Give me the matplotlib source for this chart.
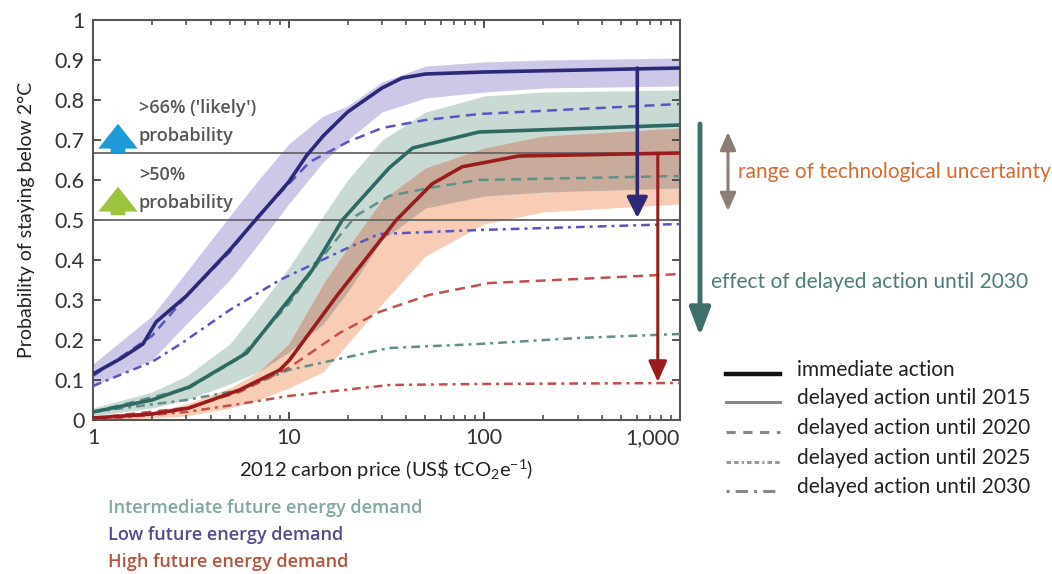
import numpy as np
import matplotlib
matplotlib.use("Agg")
import matplotlib.pyplot as plt
from matplotlib.lines import Line2D
from matplotlib.patches import FancyArrowPatch
from matplotlib.ticker import FixedLocator, NullFormatter, LogLocator

# ---------------- data ----------------
low_imm_x = [1, 1.4, 1.8, 2.1, 3, 5, 6.5, 10, 12.3, 15, 20, 30, 38, 50, 100, 1000]
low_imm_y = [0.115, 0.155, 0.19, 0.245, 0.31, 0.425, 0.49, 0.595, 0.66, 0.71, 0.77, 0.83, 0.855, 0.865, 0.87, 0.88]
low_2020_x = [1, 2, 3, 5, 7, 10, 12.8, 20, 30, 50, 94, 1000]
low_2020_y = [0.11, 0.21, 0.31, 0.42, 0.51, 0.59, 0.645, 0.695, 0.73, 0.75, 0.765, 0.79]
low_2030_x = [1, 2, 2.8, 5, 9, 20, 29, 94, 1000]
low_2030_y = [0.085, 0.145, 0.19, 0.275, 0.35, 0.43, 0.465, 0.475, 0.49]

int_imm_x = [1, 2, 3.1, 6.1, 10, 13.2, 18.8, 32.6, 43, 94, 1000]
int_imm_y = [0.02, 0.05, 0.0825, 0.1675, 0.30, 0.375, 0.50, 0.63, 0.68, 0.72, 0.7375]
int_2020_x = [1, 3.1, 5.6, 10, 15, 22, 32.6, 52, 94, 1000]
int_2020_y = [0.02, 0.08, 0.155, 0.29, 0.41, 0.51, 0.56, 0.58, 0.60, 0.61]
int_2030_x = [1, 3, 5.6, 10, 32.6, 94, 300, 1000]
int_2030_y = [0.02, 0.05, 0.075, 0.125, 0.18, 0.19, 0.205, 0.215]

high_imm_x = [1, 2, 3.1, 5.6, 9, 10.1, 17.6, 35.5, 54, 77, 150, 1000]
high_imm_y = [0.005, 0.015, 0.03, 0.075, 0.125, 0.15, 0.31, 0.50, 0.59, 0.633, 0.66, 0.6675]
high_2020_x = [1, 3, 5.6, 10, 18.2, 29, 52, 106, 300, 1000]
high_2020_y = [0.005, 0.03, 0.07, 0.13, 0.2175, 0.27, 0.3125, 0.3425, 0.3525, 0.365]
high_2030_x = [1, 3, 5.6, 10, 32.6, 94, 1000]
high_2030_y = [0.0, 0.02, 0.04, 0.06, 0.0875, 0.09, 0.0925]

band_x = [1, 2, 3, 5, 7, 10, 15, 20, 30, 50, 100, 200, 1000]
low_upper = [0.14, 0.26, 0.37, 0.51, 0.60, 0.69, 0.76, 0.785, 0.845, 0.885, 0.895, 0.90, 0.905]
low_lower = [0.085, 0.15, 0.24, 0.35, 0.44, 0.54, 0.645, 0.70, 0.77, 0.805, 0.82, 0.83, 0.835]
int_upper = [0.03, 0.07, 0.11, 0.19, 0.28, 0.38, 0.51, 0.60, 0.70, 0.77, 0.81, 0.82, 0.825]
int_lower = [0.01, 0.03, 0.05, 0.09, 0.12, 0.17, 0.24, 0.32, 0.45, 0.53, 0.56, 0.57, 0.58]
high_upper = [0.01, 0.02, 0.04, 0.08, 0.12, 0.19, 0.34, 0.43, 0.55, 0.63, 0.68, 0.71, 0.73]
high_lower = [0.0, 0.005, 0.01, 0.03, 0.05, 0.08, 0.12, 0.19, 0.29, 0.41, 0.49, 0.52, 0.54]

thresholds = [2 / 3, 0.5]
low_arrow = [605, 0.88, 0.505]
high_arrow = [770, 0.6675, 0.095]

x_ticks = [1, 10, 100, 1000]
x_ticklabels = ["1", "10", "100", "1,000"]
y_ticks = [0, 0.1, 0.2, 0.3, 0.4, 0.5, 0.6, 0.7, 0.8, 0.9, 1.0]
y_ticklabels = ["0", "0.1", "0.2", "0.3", "0.4", "0.5", "0.6", "0.7", "0.8", "0.9", "1"]

legend_labels = ["immediate action", "delayed action until 2015", "delayed action until 2020",
                 "delayed action until 2025", "delayed action until 2030"]
demand_labels = ["Intermediate future energy demand", "Low future energy demand", "High future energy demand"]

# ---------------- style ----------------
LIGHT = dict(family=["Lato", "DejaVu Sans"], weight="normal")
BOLD = dict(family=["Open Sans", "DejaVu Sans"], weight="semibold")
plt.rcParams["mathtext.fontset"] = "custom"
plt.rcParams["mathtext.rm"] = "Lato"
plt.rcParams["mathtext.it"] = "Lato"
plt.rcParams["mathtext.default"] = "regular"

C_LOW = "#2c2a78"
C_LOW2 = "#5a55c4"
C_INT = "#2f6a62"
C_INT2 = "#5f918a"
C_HIGH = "#9a1d1d"
C_HIGH2 = "#c2504a"

fig = plt.figure(figsize=(10.52, 5.74), dpi=100)
W, H = 1052, 574
ax = fig.add_axes([93 / W, 1 - 420 / H, (680 - 93) / W, 400 / H])
ax.set_xscale("log")
ax.set_xlim(1, 1000)
ax.set_ylim(0, 1)

bx = np.array(band_x)
ax.fill_between(bx, low_lower, low_upper, color="#cdc7e8", lw=0, zorder=1)
ax.fill_between(bx, high_lower, high_upper, color="#f9ccb6", lw=0, zorder=1)
ax.fill_between(bx, int_lower, int_upper, color="#c9dad5", lw=0, zorder=1.1)
ov_lo = np.maximum(int_lower, high_lower)
ov_hi = np.minimum(int_upper, high_upper)
ax.fill_between(bx, ov_lo, ov_hi, where=ov_hi > ov_lo, interpolate=True,
                color="#c8ab9b", lw=0, zorder=1.2)

for t in thresholds:
    ax.axhline(t, color="#666666", lw=1.3, zorder=2)

dash = (0, (4, 2.5))
dashdot = (0, (3.5, 2, 1.2, 2))
ax.plot(low_2030_x, low_2030_y, color=C_LOW2, lw=1.8, ls=dashdot, zorder=3)
ax.plot(int_2030_x, int_2030_y, color=C_INT2, lw=1.8, ls=dashdot, zorder=3)
ax.plot(high_2030_x, high_2030_y, color=C_HIGH2, lw=1.8, ls=dashdot, zorder=3)
ax.plot(low_2020_x, low_2020_y, color=C_LOW2, lw=1.8, ls=dash, zorder=3)
ax.plot(int_2020_x, int_2020_y, color=C_INT2, lw=1.8, ls=dash, zorder=3)
ax.plot(high_2020_x, high_2020_y, color=C_HIGH2, lw=1.8, ls=dash, zorder=3)
ax.plot(low_imm_x, low_imm_y, color=C_LOW, lw=2.6, zorder=4)
ax.plot(int_imm_x, int_imm_y, color=C_INT, lw=2.6, zorder=4)
ax.plot(high_imm_x, high_imm_y, color=C_HIGH, lw=2.6, zorder=4)

ax.annotate("", xy=(low_arrow[0], low_arrow[2]), xytext=(low_arrow[0], low_arrow[1]),
            arrowprops=dict(arrowstyle="-|>,head_length=0.9,head_width=0.45", color=C_LOW,
                            lw=2.6, shrinkA=0, shrinkB=0, mutation_scale=14), zorder=5)
ax.annotate("", xy=(high_arrow[0], high_arrow[2]), xytext=(high_arrow[0], high_arrow[1]),
            arrowprops=dict(arrowstyle="-|>,head_length=0.9,head_width=0.4", color=C_HIGH,
                            lw=2.2, shrinkA=0, shrinkB=0, mutation_scale=14), zorder=5)

# axes styling
for s in ax.spines.values():
    s.set_color("#555555")
    s.set_linewidth(1.5)
ax.xaxis.set_major_locator(FixedLocator(x_ticks))
ax.set_xticklabels(x_ticklabels)
ax.xaxis.set_minor_locator(LogLocator(base=10, subs=np.arange(2, 10)))
ax.xaxis.set_minor_formatter(NullFormatter())
ax.set_yticks(y_ticks)
ax.set_yticklabels(y_ticklabels)
ax.tick_params(which="both", direction="in", top=True, right=True, color="#444444",
               labelsize=15.5, labelcolor="#333333", pad=6)
ax.tick_params(which="major", length=6, width=1.3)
ax.tick_params(which="minor", length=3.5, width=1.1)
for lab in ax.get_xticklabels() + ax.get_yticklabels():
    lab.set_fontfamily(LIGHT["family"])
    lab.set_fontweight(LIGHT["weight"])
ax.get_xticklabels()[-1].set_horizontalalignment("right")

ax.set_xlabel("2012 carbon price (US\\$ tCO$_2$e$^{-1}$)", fontsize=14.5, color="#222222",
              labelpad=7, **LIGHT)
ax.set_ylabel("Probability of staying below 2°C", fontsize=14, color="#222222",
              labelpad=14, **LIGHT)

# probability annotations
def fx(px):
    return px / W

def fy(py):
    return 1 - py / H

for txt, yy in [(">66% ('likely')", 108), ("probability", 136), (">50%", 175), ("probability", 203)]:
    fig.text(fx(139), fy(yy), txt, fontsize=13, color="#555555", va="center", **BOLD)
for (ytail, yhead, col) in [(156, 121, "#1d9ad8"), (218, 184, "#9dc43d")]:
    fig.add_artist(FancyArrowPatch(
        (fx(118), fy(ytail)), (fx(118), fy(yhead)), transform=fig.transFigure,
        arrowstyle="simple,head_width=1.35,head_length=0.85,tail_width=0.5",
        mutation_scale=21, color=col, lw=0))

# outside annotations
fig.add_artist(FancyArrowPatch(
    (fx(700), fy(124)), (fx(700), fy(336)), transform=fig.transFigure,
    arrowstyle="-|>,head_length=1.2,head_width=0.45", mutation_scale=14,
    color="#3f6f6a", lw=3.5, shrinkA=0, shrinkB=0))
fig.add_artist(FancyArrowPatch(
    (fx(728), fy(132)), (fx(728), fy(211)), transform=fig.transFigure,
    arrowstyle="<|-|>,head_length=0.9,head_width=0.4", mutation_scale=12,
    color="#8c7d76", lw=2.2, shrinkA=0, shrinkB=0))
fig.text(fx(738), fy(172), "range of technological uncertainty", fontsize=15,
         color="#d8692f", va="center", **LIGHT)
fig.text(fx(711), fy(282), "effect of delayed action until 2030", fontsize=15,
         color="#4d7c77", va="center", **LIGHT)

# legend
leg_styles = [dict(color="#111111", lw=3.2, ls="-"),
              dict(color="#888888", lw=2.2, ls="-"),
              dict(color="#888888", lw=2.2, ls=(0, (3, 2.5))),
              dict(color="#999999", lw=2.2, ls=(0, (1.5, 1, 1.5, 1, 0.7, 1))),
              dict(color="#888888", lw=2.2, ls=(0, (1, 2, 4, 2)))]
leg_y = [370, 398, 428, 458, 487]
for lab, st, yy in zip(legend_labels, leg_styles, leg_y):
    fig.add_artist(Line2D([fx(726), fx(780)], [fy(yy + 4), fy(yy + 4)],
                          transform=fig.transFigure, **st))
    fig.text(fx(797), fy(yy), lab, fontsize=15, color="#222222", va="center", **LIGHT)

demand_colors = ["#7fa89f", "#4f4b8d", "#b5533c"]
for lab, col, yy in zip(demand_labels, demand_colors, [508, 535, 562]):
    fig.text(fx(108), fy(yy), lab, fontsize=13, color=col, va="center", **BOLD)

fig.savefig("out.png", dpi=100, facecolor="white")
